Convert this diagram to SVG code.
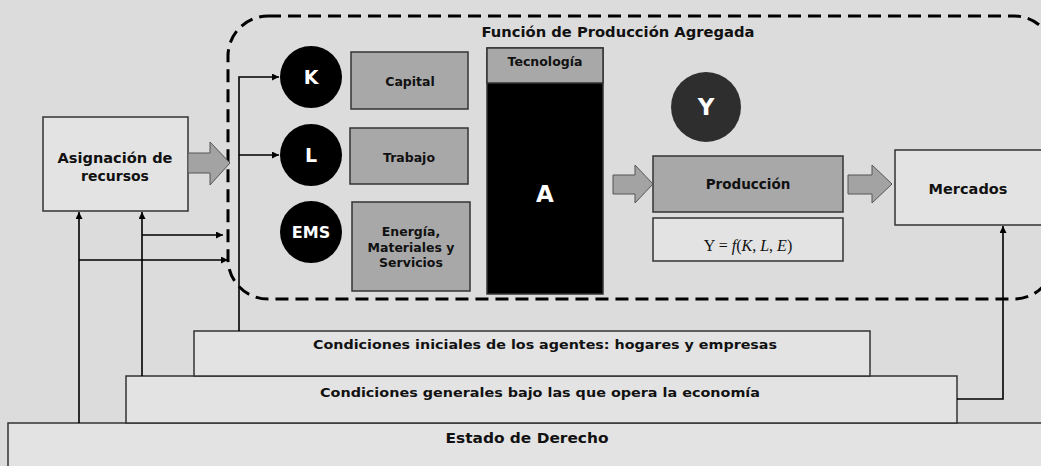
<svg xmlns="http://www.w3.org/2000/svg" width="1041" height="466" viewBox="0 0 1041 466">
<defs>
<marker id="ah" viewBox="0 0 10 10" refX="10" refY="5" markerWidth="7" markerHeight="7" markerUnits="userSpaceOnUse" orient="auto">
<path d="M0,0 L10,5 L0,10 Z" fill="#000"/>
</marker>
</defs>
<style>
.t{font-family:"DejaVu Sans","Liberation Sans",sans-serif;font-weight:bold;fill:#111;text-anchor:middle}
.w{fill:#fff}
.box{fill:#e3e3e3;stroke:#333;stroke-width:1.5}
.gbox{fill:#a8a8a8;stroke:#333;stroke-width:1.5}
.circ{fill:#000}
.big{fill:#a3a3a3;stroke:#555;stroke-width:1}
.ln{fill:none;stroke:#000;stroke-width:1.6}
.f{font-family:"Liberation Serif","DejaVu Serif",serif;fill:#111;text-anchor:middle}
</style>
<rect width="1041" height="466" fill="#dcdcdc"/>

<g id="estado-derecho">
<rect class="box" x="8" y="423" width="1045" height="55"/>
<text class="t" x="527" y="443" font-size="13.5" textLength="163" lengthAdjust="spacingAndGlyphs">Estado de Derecho</text>
</g>
<g id="condiciones-generales">
<rect class="box" x="126" y="376" width="831" height="47"/>
<text class="t" x="540" y="397" font-size="13" textLength="440" lengthAdjust="spacingAndGlyphs">Condiciones generales bajo las que opera la economía</text>
</g>
<g id="condiciones-iniciales">
<rect class="box" x="194" y="331" width="676" height="45"/>
<text class="t" x="545" y="349" font-size="13" textLength="464" lengthAdjust="spacingAndGlyphs">Condiciones iniciales de los agentes: hogares y empresas</text>
</g>

<g id="funcion-produccion">
<rect x="228" y="16" width="826" height="283" rx="40" fill="none" stroke="#000" stroke-width="3" stroke-dasharray="13 7"/>
<text class="t" x="618" y="37" font-size="14" textLength="273" lengthAdjust="spacingAndGlyphs">Función de Producción Agregada</text>
</g>

<g id="asignacion">
<rect class="box" x="43" y="117" width="145" height="94"/>
<text class="t" x="115" y="163" font-size="14" textLength="115" lengthAdjust="spacingAndGlyphs">Asignación de</text>
<text class="t" x="115" y="181" font-size="14">recursos</text>
</g>

<g id="K">
<circle class="circ" cx="311" cy="77" r="31"/>
<text class="t w" x="311" y="84" font-size="19">K</text>
</g>
<g id="L">
<circle class="circ" cx="311" cy="155" r="31"/>
<text class="t w" x="311" y="162" font-size="19">L</text>
</g>
<g id="EMS">
<circle class="circ" cx="311" cy="232" r="31"/>
<text class="t w" x="311" y="238" font-size="16">EMS</text>
</g>

<g id="capital">
<rect class="gbox" x="351" y="52" width="117" height="57"/>
<text class="t" x="410" y="86" font-size="12.5">Capital</text>
</g>
<g id="trabajo">
<rect class="gbox" x="350" y="128" width="118" height="56"/>
<text class="t" x="409" y="162" font-size="12.5">Trabajo</text>
</g>
<g id="energia">
<rect class="gbox" x="352" y="202" width="118" height="89"/>
<text class="t" x="411" y="236" font-size="12.5">Energía,</text>
<text class="t" x="411" y="252" font-size="12.5">Materiales y</text>
<text class="t" x="411" y="267" font-size="12.5">Servicios</text>
</g>

<g id="tecnologia">
<rect x="487" y="48" width="116" height="246" fill="#000" stroke="#333" stroke-width="1.5"/>
<rect x="487" y="48" width="116" height="35" fill="#a8a8a8" stroke="#333" stroke-width="1.5"/>
<text class="t" x="545" y="66" font-size="12.5">Tecnología</text>
<text class="t w" x="545" y="202" font-size="23">A</text>
</g>

<g id="Y">
<circle cx="706" cy="107" r="35" fill="#2e2e2e"/>
<text class="t w" x="706" y="115" font-size="23">Y</text>
</g>

<g id="produccion">
<rect class="gbox" x="653" y="156" width="190" height="56"/>
<text class="t" x="748" y="189" font-size="13.5">Producción</text>
</g>
<g id="formula">
<rect class="box" x="653" y="218" width="190" height="43"/>
<text class="f" x="748" y="251" font-size="16">Y = <tspan font-style="italic">f</tspan>(<tspan font-style="italic">K</tspan>, <tspan font-style="italic">L</tspan>, <tspan font-style="italic">E</tspan>)</text>
</g>

<g id="mercados">
<rect class="box" x="895" y="150" width="155" height="75"/>
<text class="t" x="968" y="194" font-size="14.5">Mercados</text>
</g>

<g id="connectors">
<path class="big" d="M188,153 L210,153 L210,142 L230,163 L210,185 L210,173 L188,173 Z"/>
<path class="big" d="M613,175 L635,175 L635,165 L653,184 L635,203 L635,194 L613,194 Z"/>
<path class="big" d="M848,175 L872,175 L872,165 L892,184 L872,203 L872,194 L848,194 Z"/>

<path class="ln" d="M239,331 L239,77 L279,77" marker-end="url(#ah)"/>
<path class="ln" d="M239,155 L279,155" marker-end="url(#ah)"/>
<path class="ln" d="M79,423 L79,212" marker-end="url(#ah)"/>
<path class="ln" d="M142,376 L142,212" marker-end="url(#ah)"/>
<path class="ln" d="M142,235 L223,235" marker-end="url(#ah)"/>
<path class="ln" d="M79,260 L228,260" marker-end="url(#ah)"/>
<path class="ln" d="M957,399 L1003,399 L1003,226" marker-end="url(#ah)"/>
</g>
</svg>
